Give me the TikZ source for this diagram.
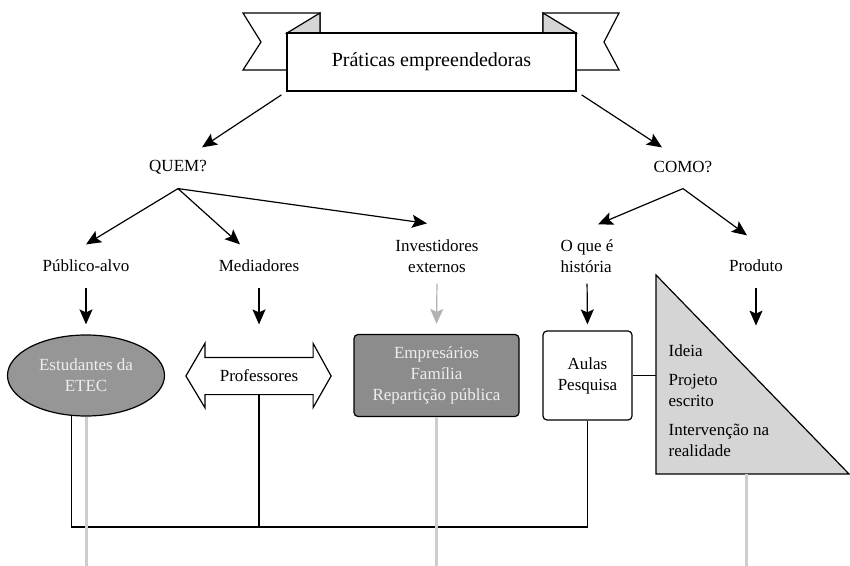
\documentclass[tikz,border=0pt]{standalone}
\usepackage{fontspec}
\setmainfont{Liberation Serif}
\usepackage{xcolor}
\usetikzlibrary{shapes,arrows.meta,positioning,calc}
\definecolor{cinzaescuro}{RGB}{150,150,150}
\definecolor{cinzamedio}{RGB}{140,140,140}
\definecolor{cinzaclaro}{RGB}{213,213,213}
\definecolor{cinzatrilho}{RGB}{205,205,205}
\definecolor{cinzaseta}{RGB}{178,178,178}
\definecolor{quasebranco}{RGB}{238,238,238}
\tikzstyle{seta}=[-{Stealth[length=7.5pt,width=6.5pt,inset=1.5pt]}, line width=0.6pt]
\tikzstyle{rotulo}=[inner sep=0pt, minimum height=21pt, align=center]
\tikzstyle{trilho}=[line width=1.5pt, draw=cinzatrilho]
\tikzstyle{caixa}=[draw, rounded corners=2pt, inner sep=0pt, align=center]
\tikzstyle{item}=[anchor=west, inner sep=0pt, align=left]

\begin{document}
\begin{tikzpicture}[x=0.5pt,y=-0.5pt,line width=0.6pt,every node/.style={font=\fontsize{8.5}{10.5}\selectfont}]
\useasboundingbox (0,0) rectangle (850,566);

% faixa
\draw[fill=white] (243,13) -- (320,13) -- (320,70) -- (243,70) -- (261,42) -- cycle;
\draw[fill=cinzaclaro] (287,33) -- (320,13) -- (320,33) -- cycle;
\draw[fill=white] (619,13) -- (543,13) -- (543,70) -- (619,70) -- (604,42) -- cycle;
\draw[fill=cinzaclaro] (543,13) -- (576,33) -- (543,33) -- cycle;
\node[draw, fill=white, minimum width=144.5pt, minimum height=29pt, font=\fontsize{10}{12}\selectfont] (titulo) at (431.5,62) {Práticas empreendedoras};

% perguntas
\node[rotulo] (quem) at (178,167) {QUEM?};
\node[rotulo] (como) at (683,167) {COMO?};
\draw[seta, shorten <=3pt] (titulo.south west) -- ($(quem.north)+(24,2)$);
\draw[seta, shorten <=3pt] (titulo.south east) -- ($(como.north)+(-21,2)$);

\node[rotulo] (publico) at (86,266) {Público-alvo};
\node[rotulo] (mediadores) at (259,266) {Mediadores};
\node[rotulo] (investidores) at (437,256) {Investidores\\externos};
\node[rotulo, align=left] (oque) at (587,256) {O que é\\história};
\node[rotulo] (produto) at (756,266) {Produto};

\draw[seta] (quem.south) -- (publico.north);
\draw[seta] (quem.south) -- ($(mediadores.north)+(-19,0)$);
\draw[seta] (quem.south) -- ($(investidores.north)+(-10,-11)$);
\draw[seta] (como.south) -- ($(oque.north)+(11,-10)$);
\draw[seta] (como.south) -- ($(produto.north)+(-9,-9)$);

% formas
\node[ellipse, draw, fill=cinzaescuro, text=quasebranco, minimum width=78.5pt, minimum height=40.5pt, inner sep=0pt, align=center] (estudantes) at (86,375.5) {Estudantes da\\ETEC};

\node[inner sep=0pt, minimum width=53.5pt, minimum height=18pt] (professores) at (259,376) {};
\draw[fill=white] (professores.north west) -- ++(0,-14) -- ($(professores.west)+(-19,0)$) -- ($(professores.south west)+(0,13)$) -- (professores.south west) -- (professores.south east) -- ++(0,13) -- ($(professores.east)+(18,0)$) -- ($(professores.north east)+(0,-14)$) -- (professores.north east) -- cycle;
\node at (professores) {Professores};

\node[caixa, fill=cinzamedio, text=quasebranco, minimum width=82.5pt, minimum height=41pt] (empresarios) at (436.5,375.5) {Empresários\\Família\\Repartição pública};
\node[caixa, fill=white, minimum width=44.5pt, minimum height=44.5pt] (aulas) at (587.5,375.5) {Aulas\\Pesquisa};

\coordinate (tri-topo) at (656,275);
\coordinate (tri-canto) at (656,474);
\coordinate (tri-ponta) at (849,474);
\draw[fill=cinzaclaro] (tri-topo) -- (tri-canto) -- (tri-ponta) -- cycle;
\node[item] (ideia) at (668,351) {Ideia};
\node[item] (projeto) at (668,390.5) {Projeto\\escrito};
\node[item] (intervencao) at (668,440.5) {Intervenção na\\realidade};

\draw[seta, shorten >=5pt] (publico.south) -- (estudantes.north);
\draw[seta, shorten >=16.5pt] (mediadores.south) -- (professores.north);
\draw[seta, draw=cinzaseta, shorten <=3pt, shorten >=5pt] (investidores.south) -- (empresarios.north);
\draw[seta, shorten <=3pt, shorten >=3pt] (oque.south) -- (aulas.north);
\coordinate (produto-fim) at ($(produto.south)+(0,38)$);
\draw[seta] (produto.south) -- (produto-fim);

% ligacoes
\coordinate (base) at (0,527);
\coordinate (fundo) at (0,566);
\draw (aulas.east) -- (aulas.east -| tri-topo);
\draw (estudantes.250) |- (base -| aulas.south) -- (aulas.south);
\draw (professores.south) -- (professores.south |- base);

\draw[trilho] (estudantes.south) -- (estudantes.south |- fundo);
\draw[trilho] (empresarios.south) -- (empresarios.south |- fundo);
\draw[trilho] ($(tri-canto)!0.47!(tri-ponta)$) coordinate (tri-pe) -- (tri-pe |- fundo);

\end{tikzpicture}
\end{document}
